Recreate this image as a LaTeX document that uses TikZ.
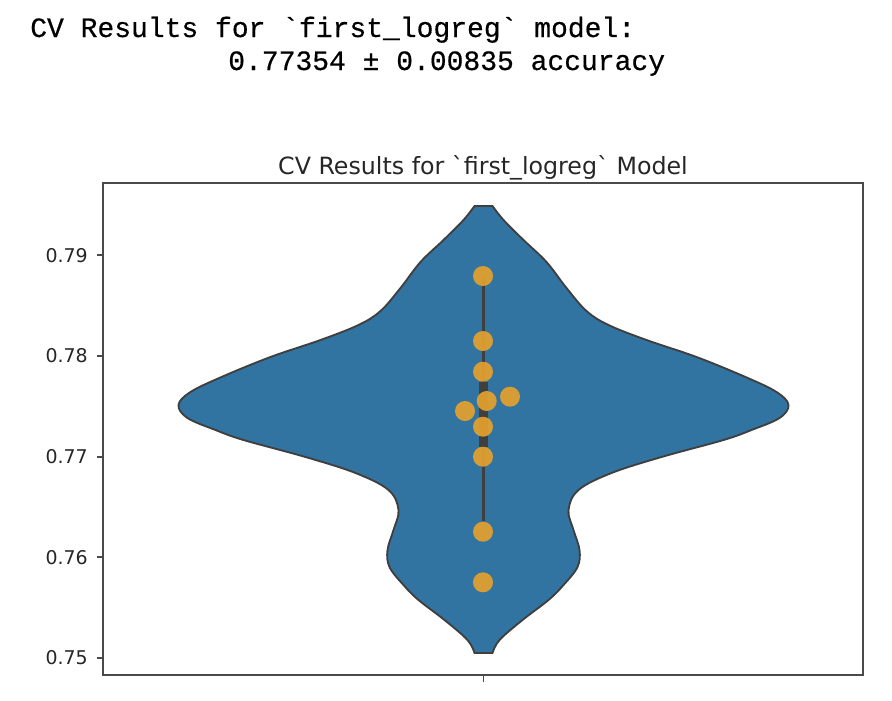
\documentclass[tikz,border=0pt]{standalone}
\usepackage{fontspec}
\newfontfamily\monof[FakeBold=0.5]{Liberation Mono}
\newfontfamily\djv{DejaVu Sans}
\definecolor{vblue}{HTML}{3274A1}
\definecolor{vedge}{HTML}{3F3F3F}
\definecolor{dotc}{HTML}{E8A22C}
\definecolor{txt}{HTML}{262626}
\definecolor{spine}{HTML}{4A4A4A}
\begin{document}
\begin{tikzpicture}[x=0.75pt,y=-0.75pt,
  cvtxt/.style={inner sep=0pt, anchor=base west, text=black, font=\monof\fontsize{21}{28}\selectfont},
  ticklab/.style={inner sep=0pt, anchor=east, text=txt, font=\djv\fontsize{14.2}{17}\selectfont},
  titlelab/.style={inner sep=0pt, anchor=base, text=txt, font=\djv\fontsize{17.8}{21}\selectfont},
  swarmdot/.style={circle, fill=dotc, fill opacity=0.9, minimum size=15pt, inner sep=0pt},
  spinestyle/.style={draw=spine, line width=1.3pt},
  whisk/.style={draw=vedge, line width=2.2pt},
  boxline/.style={draw=vedge, line width=6.5pt}]
\useasboundingbox (0,0) rectangle (892,700);

% header text
\node[cvtxt] (hdr1) at (30,37) {CV Results for `first\_logreg` model:};
\node[cvtxt] (hdr2) at (228,70) {0.77354 ± 0.00835 accuracy};

% title
\node[titlelab] (title) at (483,174) {CV Results for `first\_logreg` Model};

% violin
\begin{scope}[shift={(483.5,0)}]
\filldraw[fill=vblue, draw=vedge, line width=1.4pt, line join=round]
 (-9,206) -- (9,206)
 -- plot[smooth, tension=0.6] coordinates {(9,206) (20,220) (40,240) (63,262) (83,288) (103,311) (125,325) (163,340) (213,357) (262,377) (293,392) (305,405) (296,418) (268,430) (240,440) (178,457) (128,473) (95,490) (85,510) (90,530) (96,550) (94,567) (80,585) (65,600) (39,620) (16,640) (9,653)}
 -- (-9,653)
 -- plot[smooth, tension=0.6] coordinates {(-9,653) (-16,640) (-39,620) (-65,600) (-80,585) (-94,567) (-96,550) (-90,530) (-85,510) (-95,490) (-128,473) (-178,457) (-240,440) (-268,430) (-296,418) (-305,405) (-293,392) (-262,377) (-213,357) (-163,340) (-125,325) (-103,311) (-83,288) (-63,262) (-40,240) (-20,220) (-9,206)}
 -- cycle;
\end{scope}

% inner box
\coordinate (wtop) at (483.5,276);
\coordinate (wbot) at (483.5,521);
\coordinate (btop) at (483.5,382);
\coordinate (bbot) at (483.5,447);
\draw[whisk] (wtop) -- (wbot);
\draw[boxline] (btop) -- (bbot);

% swarm points
\node[swarmdot] (d1) at (483,276) {};
\node[swarmdot] (d2) at (483,341) {};
\node[swarmdot] (d3) at (483,371.7) {};
\node[swarmdot] (d4) at (510,396.7) {};
\node[swarmdot] (d5) at (486.7,401) {};
\node[swarmdot] (d6) at (465,411) {};
\node[swarmdot] (d7) at (483,426.7) {};
\node[swarmdot] (d8) at (483,456.7) {};
\node[swarmdot] (d9) at (483,531.7) {};
\node[swarmdot] (d10) at (483,582.3) {};

% axes frame
\draw[spinestyle] (103,183) rectangle (863,675);

% y ticks
\foreach \v/\yy in {0.79/255.3, 0.78/356, 0.77/456.7, 0.76/557.3, 0.75/658} {
  \draw[spinestyle] (97,\yy) -- (103,\yy);
  \node[ticklab] (t\v) at (88,\yy) {\v};
}
% x tick
\coordinate (xt0) at (483.5,675);
\coordinate (xt1) at (483.5,682);
\draw[spinestyle] (xt0) -- (xt1);
\end{tikzpicture}
\end{document}
